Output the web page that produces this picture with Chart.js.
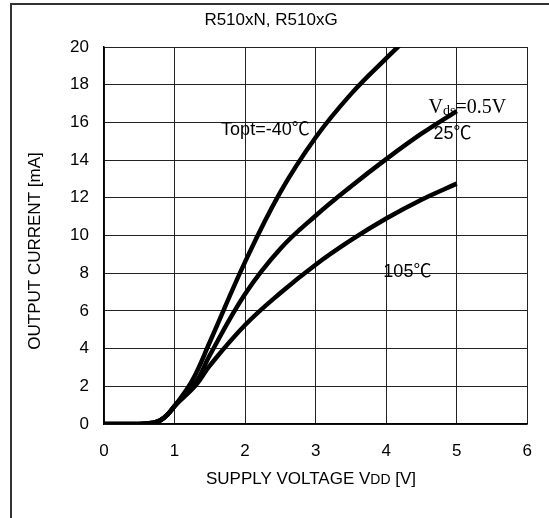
<!DOCTYPE html>
<html>
<head>
<meta charset="utf-8">
<script src="https://cdn.jsdelivr.net/npm/chart.js@4"></script>
<style>
  html, body { margin: 0; padding: 0; background: #fff; }
  #wrap { width: 549px; height: 518px; }
</style>
</head>
<body>
<div id="wrap"><canvas id="chart" width="549" height="518"></canvas></div>
<script>
// output current vs supply voltage, Vds = 0.5V
const coldV = [0, 0.5, 0.7, 0.8, 0.9, 1.0, 1.25, 1.5, 2, 2.5, 3, 3.5, 4, 4.25];
const coldI = [0, 0, 0.07, 0.2, 0.5, 0.95, 2.3, 4.35, 8.6, 12.3, 15.2, 17.5, 19.4, 20.3];

const roomV = [0, 0.5, 0.7, 0.8, 0.9, 1.0, 1.3, 1.5, 2, 2.5, 3, 3.5, 4, 4.5, 5];
const roomI = [0, 0, 0.07, 0.2, 0.5, 0.95, 2.2, 3.65, 6.9, 9.3, 11.05, 12.6, 14.05, 15.4, 16.6];

const hotV = [0, 0.5, 0.7, 0.8, 0.9, 1.0, 1.3, 1.5, 2, 2.5, 3, 3.5, 4, 4.5, 5];
const hotI = [0, 0, 0.07, 0.2, 0.5, 0.95, 2.05, 3.1, 5.25, 6.95, 8.45, 9.75, 10.9, 11.9, 12.75];

const xTicks = [0, 1, 2, 3, 4, 5, 6];
const yTicks = [0, 2, 4, 6, 8, 10, 12, 14, 16, 18, 20];

const SANS = '"Liberation Sans", Arial, sans-serif';
const CJK = '"Noto Sans CJK JP", sans-serif';
const SERIF = '"Liberation Serif", "Times New Roman", serif';

function pts(xs, ys) {
  return xs.map((x, i) => ({ x, y: ys[i] }));
}

function curve(label, xs, ys) {
  return {
    label,
    data: pts(xs, ys),
    borderColor: '#000',
    borderWidth: 4.5,
    pointRadius: 0,
    tension: 0.4,
    fill: false
  };
}

// draws "text℃" on a shared baseline, degree sign from the CJK font
function tempLabel(c, text, x, y, size) {
  const base = y + size * 0.36;
  c.textBaseline = 'alphabetic';
  c.font = size + 'px ' + SANS;
  c.fillText(text, x, base);
  const w = c.measureText(text).width;
  c.font = size + 'px ' + CJK;
  c.fillText('℃', x + w, base);
  c.textBaseline = 'middle';
}

// frame, title, axis titles and curve labels
const decor = {
  id: 'decor',
  beforeDraw(chart) {
    const c = chart.ctx;
    c.save();
    c.fillStyle = '#fff';
    c.fillRect(0, 0, chart.width, chart.height);
    c.strokeStyle = '#333';
    c.lineWidth = 2;
    c.beginPath();
    c.moveTo(11, chart.height);
    c.lineTo(11, 4);
    c.lineTo(chart.width, 4);
    c.stroke();
    c.restore();
  },
  afterDraw(chart) {
    const c = chart.ctx;
    const xs = chart.scales.x, ys = chart.scales.y;
    c.save();
    c.fillStyle = '#000';
    c.textBaseline = 'middle';

    c.font = '17px ' + SANS;
    c.textAlign = 'center';
    c.fillText('R510xN, R510xG', 271, 20);

    // x axis title with small "DD"
    const p1 = 'SUPPLY VOLTAGE V', p2 = 'DD', p3 = ' [V]';
    c.font = '17px ' + SANS;
    const w1 = c.measureText(p1).width, w3 = c.measureText(p3).width;
    c.font = '14px ' + SANS;
    const w2 = c.measureText(p2).width;
    const tx = 311 - (w1 + w2 + w3) / 2;
    const ty = 479;
    c.textAlign = 'left';
    c.font = '17px ' + SANS;
    c.fillText(p1, tx, ty);
    c.font = '14px ' + SANS;
    c.fillText(p2, tx + w1, ty + 1.5);
    c.font = '17px ' + SANS;
    c.fillText(p3, tx + w1 + w2, ty);

    // y axis title
    c.save();
    c.translate(35, 251);
    c.rotate(-Math.PI / 2);
    c.textAlign = 'center';
    c.fillText('OUTPUT CURRENT [mA]', 0, 0);
    c.restore();

    // curve labels
    c.textAlign = 'left';
    tempLabel(c, 'Topt=-40', xs.getPixelForValue(1.66), ys.getPixelForValue(15.7), 18);
    tempLabel(c, '25', xs.getPixelForValue(4.67), ys.getPixelForValue(15.45), 18);
    tempLabel(c, '105', xs.getPixelForValue(3.96), ys.getPixelForValue(8.15), 18);

    c.font = '20px ' + SERIF;
    const vx = xs.getPixelForValue(4.6), vy = ys.getPixelForValue(16.8);
    c.fillText('V', vx, vy);
    const vw = c.measureText('V').width;
    c.font = '14px ' + SERIF;
    c.fillText('ds', vx + vw, vy + 4);
    const dw = c.measureText('ds').width;
    c.font = '20px ' + SERIF;
    c.fillText('=0.5V', vx + vw + dw, vy);
    c.restore();
  }
};

new Chart(document.getElementById('chart'), {
  type: 'line',
  data: {
    datasets: [
      curve('Topt=-40℃', coldV, coldI),
      curve('25℃', roomV, roomI),
      curve('105℃', hotV, hotI)
    ]
  },
  plugins: [decor],
  options: {
    responsive: false,
    animation: false,
    layout: { padding: { left: 0, right: 17, top: 47, bottom: 0 } },
    plugins: {
      legend: { display: false },
      tooltip: { enabled: false },
      title: { display: false }
    },
    scales: {
      x: {
        type: 'linear',
        min: 0,
        max: 6,
        afterBuildTicks: s => { s.ticks = xTicks.map(v => ({ value: v })); },
        afterFit: s => { s.height = 94; },
        grid: { color: '#222', lineWidth: 1, drawTicks: false },
        border: { color: '#000', width: 1.5 },
        ticks: { color: '#000', padding: 17, font: { family: SANS, size: 17 } }
      },
      y: {
        type: 'linear',
        min: 0,
        max: 20,
        afterBuildTicks: s => { s.ticks = yTicks.map(v => ({ value: v })); },
        afterFit: s => { s.width = 104; },
        grid: { color: '#222', lineWidth: 1, drawTicks: false },
        border: { color: '#000', width: 1.5 },
        ticks: { color: '#000', padding: 15, font: { family: SANS, size: 17 } }
      }
    }
  }
});
</script>
</body>
</html>
